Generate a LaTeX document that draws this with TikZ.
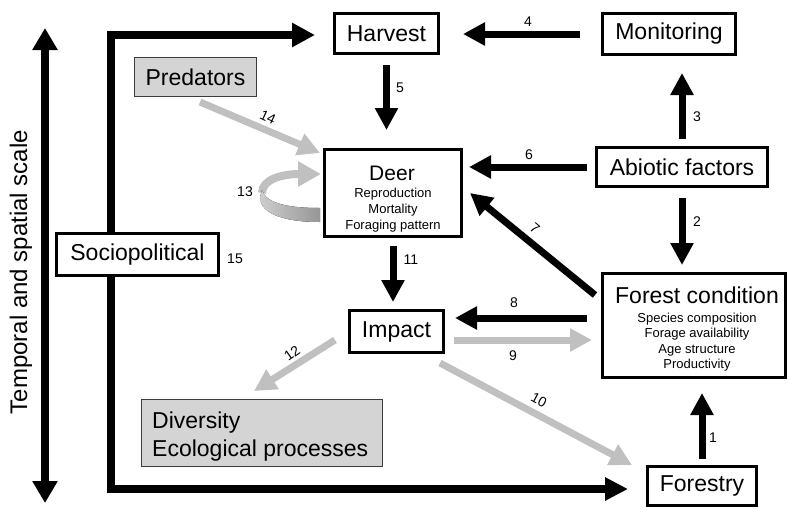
\documentclass[tikz,border=0pt]{standalone}
\usepackage{fontspec}
\setmainfont{Liberation Sans}
\usetikzlibrary{arrows.meta,calc}
\definecolor{lg}{RGB}{192,192,192}
\definecolor{boxg}{RGB}{212,212,212}
\definecolor{boxd}{RGB}{60,60,60}
\definecolor{bandL}{RGB}{205,205,205}
\definecolor{bandD}{RGB}{150,150,150}
\begin{document}
\begin{tikzpicture}[x=1pt,y=-1pt,
  box/.style={draw=black, line width=3pt, fill=white, inner sep=0pt, font=\fontsize{23}{27}\selectfont},
  gbox/.style={draw=boxd, line width=1pt, fill=boxg, inner sep=0pt, font=\fontsize{23}{27}\selectfont},
  blk/.style={line width=7pt, -{Triangle[length=22pt,width=22pt]}},
  gry/.style={blk, draw=lg},
  bigarrow/.style={line width=8pt, line join=miter},
  num/.style={font=\fontsize{14}{16}\selectfont, inner sep=0pt},
  small/.style={font=\fontsize{13}{15}\selectfont, inner sep=0pt, anchor=base},
  title/.style={font=\fontsize{23}{27}\selectfont, inner sep=0pt, anchor=base}]
\useasboundingbox (0,0) rectangle (789,509);

% frame arrow and scale arrow
\coordinate (ftl) at (111,35);
\coordinate (fbl) at (111,489);
\coordinate (st) at (45,28);
\coordinate (sb) at (45,503);

\node[box, minimum width=104pt, minimum height=40pt] (harv) at (386.5,33.5) {Harvest};
\node[box, minimum width=109pt, minimum height=39pt] (frs) at (702,486) {Forestry};

\draw[bigarrow, {Triangle[length=23pt,width=23pt]}-{Triangle[length=23pt,width=22pt]}]
  ($(harv.west)+(-18,1.5)$) -- (ftl) -- (fbl) -- ($(frs.west)+(-18,3)$);
\draw[line width=8pt, {Triangle[length=22pt,width=24pt]}-{Triangle[length=22pt,width=24pt]}] (st) -- (sb);
\node[rotate=90, inner sep=0pt, font=\fontsize{24}{28}\selectfont] (scl) at (21,272) {Temporal and spatial scale};

% boxes
\node[box, minimum width=133pt, minimum height=41pt] (mon) at (669,34) {Monitoring};
\node[box, minimum width=171pt, minimum height=39pt] (abio) at (682,167) {Abiotic factors};
\node[box, minimum width=137pt, minimum height=87pt] (deer) at (393,193) {};
\node[box, minimum width=183pt, minimum height=104pt] (for) at (694,325.5) {};
\node[box, minimum width=94pt, minimum height=42pt] (imp) at (396.5,331.5) {Impact};
\node[box, minimum width=162pt, minimum height=42pt] (soc) at (137.5,254.5) {Sociopolitical};
\node[gbox, minimum width=241pt, minimum height=67pt] (div) at (262,433) {};
\node[gbox, minimum width=122pt, minimum height=39pt] (pred) at (195.5,77) {Predators};

% texts in boxes
\node[title, font=\fontsize{21}{25}\selectfont] (deerT) at (392,180) {Deer};
\node[small] (deer1) at (393,197) {Reproduction};
\node[small] (deer2) at (393,213) {Mortality};
\node[small] (deer3) at (393,229) {Foraging pattern};
\node[title] (forT) at (697,303) {Forest condition};
\node[small] (for1) at (697,322) {Species composition};
\node[small] (for2) at (697,337.5) {Forage availability};
\node[small] (for3) at (697,353) {Age structure};
\node[small] (for4) at (697,368.5) {Productivity};
\node[title, anchor=base west] (div1) at (152,428) {Diversity};
\node[title, anchor=base west] (div2) at (152,456) {Ecological processes};

% black arrows
\draw[blk, shorten <=10pt, shorten >=18pt] (harv.south) -- (harv.south |- deer.north); % 5
\draw[blk, shorten <=21pt, shorten >=23pt] (mon.west) -- (mon.west -| harv.east); % 4
\draw[blk, shorten <=7pt, shorten >=17pt] (abio.north) -- (abio.north |- mon.south); % 3
\draw[blk, shorten <=8pt, shorten >=6pt] (abio.west) -- (abio.west -| deer.east); % 6
\draw[blk, shorten <=10pt, shorten >=7pt] (abio.south) -- (abio.south |- for.north); % 2
\draw[blk] ($(for.west)+(-6,-30.5)$) -- ($(deer.east)+(7,0)$); % 7
\draw[blk] ($(for.west)+(-14,-7.5)$) -- ($(imp.east)+(10,-13.5)$); % 8
\draw[blk, shorten <=8pt, shorten >=7pt] (deer.south) -- (deer.south |- imp.north); % 11
\draw[blk, shorten <=6pt, shorten >=14pt] (frs.north) -- (frs.north |- for.south); % 1

% gray arrows
\draw[gry] ($(imp.east)+(9,8.5)$) -- ($(for.west)+(-9,14.5)$); % 9
\draw[gry] ($(imp.west)+(-13,8.5)$) -- ($(div.north)+(-8,-8)$); % 12
\draw[gry] ($(imp.south east)+(-5,9)$) -- ($(frs.north west)+(-14,0)$); % 10
\draw[gry] ($(pred.south)+(4.5,5)$) -- ($(deer.north west)+(-3,5)$); % 14

% self loop 13
\draw[line width=8pt, draw=lg, -{Triangle[length=23pt,width=24pt]}]
  ($(deer.west)+(-61,0)$) .. controls ($(deer.west)+(-61,-14)$) and ($(deer.west)+(-40,-19)$) .. ($(deer.west)+(-2,-19)$);
\fill[left color=bandL, right color=bandD]
  ($(deer.west)+(-61,-3)$) .. controls ($(deer.west)+(-57,11)$) and ($(deer.west)+(-33,15)$) .. ($(deer.west)+(-3,15)$)
  -- ($(deer.west)+(-3,29)$) .. controls ($(deer.west)+(-43,29)$) and ($(deer.west)+(-63,19)$) .. ($(deer.west)+(-63,4)$) -- cycle;

% numbers
\node[num] (n1) at (713,438) {1};
\node[num] (n2) at (697,222) {2};
\node[num] (n3) at (697,117) {3};
\node[num] (n4) at (528,22) {4};
\node[num] (n5) at (400,88) {5};
\node[num] (n6) at (529,155) {6};
\node[num, rotate=-40] (n7) at (535,228) {7};
\node[num] (n8) at (514,303) {8};
\node[num] (n9) at (513,356) {9};
\node[num, rotate=-28] (n10) at (539,400) {10};
\node[num] (n11) at (411,260) {11};
\node[num, rotate=35] (n12) at (292,353) {12};
\node[num] (n13) at (245,192) {13};
\node[num, rotate=-25] (n14) at (268,117) {14};
\node[num] (n15) at (235,259) {15};
\end{tikzpicture}
\end{document}
